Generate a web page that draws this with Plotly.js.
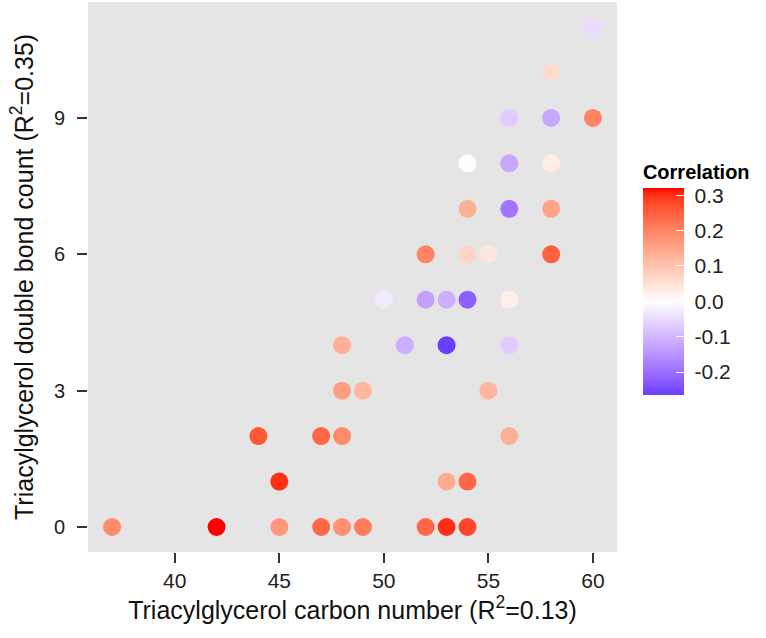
<!DOCTYPE html>
<html>
<head>
<meta charset="utf-8">
<script src="https://cdn.plot.ly/plotly-3.0.1.min.js"></script>
<style>html,body{margin:0;padding:0;background:#fff;}#chart{width:766px;height:638px;}</style>
</head>
<body>
<div id="chart"></div>
<script>
// Data
const carbonNumber = [37,42,45,47,48,49,52,53,54, 45,53,54, 44,47,48,56, 48,49,55, 48,51,53,56, 50,52,53,54,56, 52,54,55,58, 54,56,58, 54,56,58, 56,58,60, 58, 60];
const doubleBonds  = [0,0,0,0,0,0,0,0,0, 1,1,1, 2,2,2,2, 3,3,3, 4,4,4,4, 5,5,5,5,5, 6,6,6,6, 7,7,7, 8,8,8, 9,9,9, 10, 11];
const correlation  = [0.19,0.32,0.17,0.24,0.18,0.21,0.24,0.30,0.28, 0.30,0.14,0.24, 0.26,0.24,0.19,0.13, 0.16,0.12,0.12, 0.13,-0.11,-0.265,-0.07, -0.03,-0.13,-0.11,-0.22,0.03, 0.20,0.07,0.04,0.25, 0.13,-0.19,0.15, 0.0,-0.12,0.03, -0.07,-0.12,0.20, 0.06, -0.05];
const xTicks = [40,45,50,55,60];
const yTicks = [0,3,6,9];
const cbTicks = [-0.2,-0.1,0.0,0.1,0.2,0.3];

// Lab interpolation helpers (like ggplot's gradient2)
function srgbToLin(c){c/=255;return c<=0.04045?c/12.92:Math.pow((c+0.055)/1.055,2.4);}
function linToSrgb(c){c=c<=0.0031308?12.92*c:1.055*Math.pow(c,1/2.4)-0.055;return Math.max(0,Math.min(255,Math.round(c*255)));}
function rgbToLab(r,g,b){r=srgbToLin(r);g=srgbToLin(g);b=srgbToLin(b);
  let X=(0.4124*r+0.3576*g+0.1805*b)/0.95047,Y=(0.2126*r+0.7152*g+0.0722*b),Z=(0.0193*r+0.1192*g+0.9505*b)/1.08883;
  const f=t=>t>0.008856?Math.cbrt(t):7.787*t+16/116;
  return [116*f(Y)-16,500*(f(X)-f(Y)),200*(f(Y)-f(Z))];}
function labToRgb(L,a,b){const fy=(L+16)/116,fx=fy+a/500,fz=fy-b/200;
  const fi=t=>t*t*t>0.008856?t*t*t:(t-16/116)/7.787;
  const X=fi(fx)*0.95047,Y=fi(fy),Z=fi(fz)*1.08883;
  const r=3.2406*X-1.5372*Y-0.4986*Z,g=-0.9689*X+1.8758*Y+0.0415*Z,bb=0.0557*X-0.2040*Y+1.0570*Z;
  return 'rgb('+linToSrgb(r)+','+linToSrgb(g)+','+linToSrgb(bb)+')';}
const labLow=rgbToLab(0,0,255),labMid=rgbToLab(255,255,255),labHigh=rgbToLab(255,0,0);
const cmin=-0.265,cmax=0.32;
const maxAbs=Math.max(Math.abs(cmin),Math.abs(cmax));
const colorscale=[];
const N=40;
for(let i=0;i<=N;i++){
  const v=cmin+(cmax-cmin)*i/N;
  const t=v/maxAbs;
  let L;
  if(t<0){const s=-t;L=labMid.map((m,k)=>m+(labLow[k]-m)*s);}else{L=labMid.map((m,k)=>m+(labHigh[k]-m)*t);}
  colorscale.push([i/N,labToRgb(L[0],L[1],L[2])]);
}

const FONT='Liberation Sans, Arial, sans-serif';
const trace={
  type:'scatter',mode:'markers',
  x:carbonNumber,y:doubleBonds,
  marker:{size:18,color:correlation,colorscale:colorscale,cmin:cmin,cmax:cmax,line:{width:0},
    colorbar:{
      title:{text:'<b>Correlation</b>',side:'top',font:{family:FONT,size:20,color:'#000'}},
      thickness:41,thicknessmode:'pixels',len:234,lenmode:'pixels',
      x:1.049,xanchor:'left',xref:'paper',y:0.498,yanchor:'middle',yref:'paper',
      xpad:0,ypad:0,outlinewidth:0,
      tickvals:cbTicks,ticktext:cbTicks.map(v=>'\u00a0'+v.toFixed(1)),
      ticks:'inside',ticklen:8,tickcolor:'#fff',tickwidth:1,
      tickfont:{family:FONT,size:21,color:'#222'}
    }},
  hoverinfo:'x+y'
};

const layout={
  width:766,height:638,
  margin:{l:88,r:149,t:2,b:86},
  paper_bgcolor:'#fff',plot_bgcolor:'#e5e5e5',
  showlegend:false,
  xaxis:{range:[35.85,61.15],tickvals:xTicks,ticktext:xTicks.map(String),showgrid:false,zeroline:false,
    ticks:'outside',ticklen:10,tickwidth:2,tickcolor:'#333',
    tickfont:{family:FONT,size:21,color:'#222'},
    title:{text:'Triacylglycerol carbon number (R<sup>2</sup>=0.13)',standoff:6,font:{family:FONT,size:25,color:'#111'}}},
  yaxis:{range:[-0.55,11.55],tickvals:yTicks,ticktext:yTicks.map(String),showgrid:false,zeroline:false,
    ticks:'outside',ticklen:10,tickwidth:2,tickcolor:'#333',ticklabelstandoff:8,
    tickfont:{family:FONT,size:20,color:'#222'}},
  annotations:[{
    text:'Triacylglycerol double bond count (R<sup>2</sup>=0.35)',
    xref:'paper',yref:'paper',x:0,y:0.5,xshift:-66,xanchor:'center',yanchor:'middle',
    textangle:-90,showarrow:false,font:{family:FONT,size:25,color:'#111'}
  }]
};
Plotly.newPlot('chart',[trace],layout,{displayModeBar:false,staticPlot:true});
</script>
</body>
</html>
